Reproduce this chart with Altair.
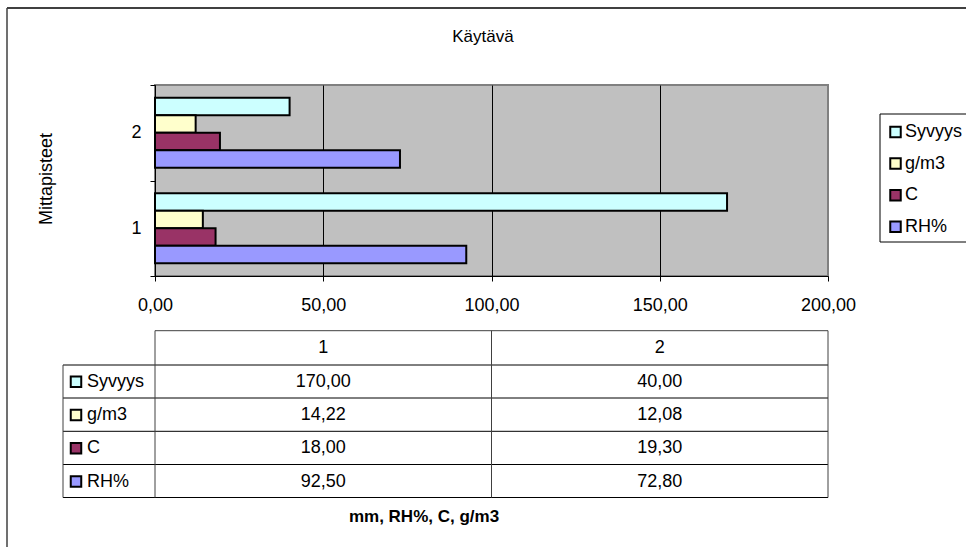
import altair as alt
import pandas as pd

# ---- data ----
points = ["1", "2"]
series = ["Syvyys", "g/m3", "C", "RH%"]
syvyys = [170.00, 40.00]
g_m3 = [14.22, 12.08]
c_vals = [18.00, 19.30]
rh = [92.50, 72.80]
colors = ["#CCFFFF", "#FFFFCC", "#993366", "#9999FF"]
x_ticks = [0, 50, 100, 150, 200]
title_text = "Käytävä"
y_title = "Mittapisteet"
x_title = "mm, RH%, C, g/m3"

rows = []
for s, vals in zip(series, [syvyys, g_m3, c_vals, rh]):
    for p, v in zip(points, vals):
        rows.append({"series": s, "point": p, "value": v})
df = pd.DataFrame(rows)
df_points = pd.DataFrame({"point": points})
df_series = pd.DataFrame({"series": series})
one = pd.DataFrame({"a": [0]})

W, H = 673, 191
FONT = "Liberation Sans"
FS = 18
fmt = "replace(format(datum.value, '.2f'), '.', ',')"

color = alt.Color("series:N", scale=alt.Scale(domain=series, range=colors), legend=None)

bars = alt.Chart(df).mark_bar(stroke="black", strokeWidth=2).encode(
    x=alt.X("value:Q",
            scale=alt.Scale(domain=[0, 200], nice=False, zero=True),
            axis=alt.Axis(values=x_ticks, labelExpr=fmt, title=None,
                          grid=True,
                          gridColor={"condition": {"test": "datum.value >= 200", "value": "#808080"}, "value": "#000000"},
                          gridWidth=1, domainColor="#000000", domainWidth=1,
                          tickColor="#000000", tickSize=5, labelPadding=24,
                          labelFlush=False, labelOverlap=False,
                          labelBaseline="middle", labelFontSize=FS, labelFont=FONT,
                          labelColor="#000000", zindex=0)),
    y=alt.Y("point:N",
            scale=alt.Scale(domain=["2", "1"], paddingInner=0, paddingOuter=0),
            axis=alt.Axis(tickBand="extent", tickSize=5, tickColor="#000000",
                          domainColor="#000000", labelPadding=9, labelAngle=0,
                          labelFontSize=FS, labelFont=FONT, labelColor="#000000",
                          title=None, zindex=0)),
    yOffset=alt.YOffset("series:N", scale=alt.Scale(domain=series, paddingInner=0, paddingOuter=0.73)),
    color=color,
)

xs_table = alt.Scale(type="point", domain=points, range=[W / 4, W * 3 / 4], padding=0)
ys_table = alt.Scale(type="point", domain=series, range=[296.7, 396.6], padding=0)
ys_legend = alt.Scale(type="point", domain=series, range=[47, 141.7], padding=0)

table_vals = alt.Chart(df).transform_calculate(label=fmt).mark_text(
    fontSize=FS, font=FONT, color="#000000", baseline="middle").encode(
    x=alt.X("point:N", scale=xs_table, axis=None),
    y=alt.Y("series:N", scale=ys_table, axis=None),
    text="label:N",
)

header = alt.Chart(df_points).mark_text(
    fontSize=FS, font=FONT, color="#000000", baseline="middle").encode(
    x=alt.X("point:N", scale=xs_table, axis=None),
    y=alt.value(262.5),
    text="point:N",
)

row_labels = alt.Chart(df_series).mark_text(
    fontSize=FS, font=FONT, color="#000000", baseline="middle", align="left").encode(
    x=alt.value(-68),
    y=alt.Y("series:N", scale=ys_table, axis=None),
    text="series:N",
)
row_sw = alt.Chart(df_series).mark_square(size=110, stroke="black", strokeWidth=2, opacity=1).encode(
    x=alt.value(-79),
    y=alt.Y("series:N", scale=ys_table, axis=None),
    color=color,
)

leg_labels = alt.Chart(df_series).mark_text(
    fontSize=FS, font=FONT, color="#000000", baseline="middle", align="left").encode(
    x=alt.value(750),
    y=alt.Y("series:N", scale=ys_legend, axis=None),
    text="series:N",
)
leg_sw = alt.Chart(df_series).mark_square(size=110, stroke="black", strokeWidth=2, opacity=1).encode(
    x=alt.value(740.5),
    y=alt.Y("series:N", scale=ys_legend, axis=None),
    color=color,
)

def txt(t, x, y, size=FS, bold=False, angle=0):
    kw = dict(fontSize=size, font=FONT, color="#000000", baseline="middle", align="center")
    if bold:
        kw["fontWeight"] = "bold"
    if angle:
        kw["angle"] = angle
    return alt.Chart(pd.DataFrame({"t": [t]})).mark_text(**kw).encode(
        x=alt.value(x), y=alt.value(y), text="t:N")

def hline(x1, x2, y, c="#000000", w=1):
    return alt.Chart(one).mark_rule(color=c, strokeWidth=w).encode(
        x=alt.value(x1), x2=alt.value(x2), y=alt.value(y))

def vline(x, y1, y2, c="#000000", w=1):
    return alt.Chart(one).mark_rule(color=c, strokeWidth=w).encode(
        x=alt.value(x), y=alt.value(y1), y2=alt.value(y2))

title = txt(title_text, 328, -48, size=17)
ytitle = txt(y_title, -108.5, 94, angle=270)
xtitle = txt(x_title, 269, 432, size=17, bold=True)

deco = [
    # outer border (left, top)
    hline(-148, 815, -77, "#404040", 2),
    vline(-148, -77, 470, "#404040", 1.5),
    # legend box
    hline(725, 815, 29),
    hline(725, 815, 157),
    vline(725, 29, 157),
    # data table
    hline(0, W, 245.7, "#404040"),
    hline(-92, W, 280),
    hline(-92, W, 313),
    hline(-92, W, 346.3),
    hline(-92, W, 379.5),
    hline(-92, W, 412.5),
    vline(-92, 280, 412.5, "#404040"),
    vline(0, 245.7, 412.5, "#404040"),
    vline(W / 2, 245.7, 412.5, "#404040"),
    vline(W, 245.7, 412.5, "#404040"),
]

chart = alt.layer(
    bars, table_vals, header, row_labels, row_sw, leg_labels, leg_sw,
    title, ytitle, xtitle, *deco
).resolve_scale(x="independent", y="independent").properties(
    width=W, height=H,
    padding={"left": 155, "top": 85, "right": 966 - 155 - W, "bottom": 547 - 85 - H},
    autosize=alt.AutoSizeParams(type="none"),
    background="white",
).configure_view(fill="#C0C0C0", stroke="#808080", strokeWidth=2)

chart.save("out.html", embed_options={"renderer": "svg", "actions": False})
